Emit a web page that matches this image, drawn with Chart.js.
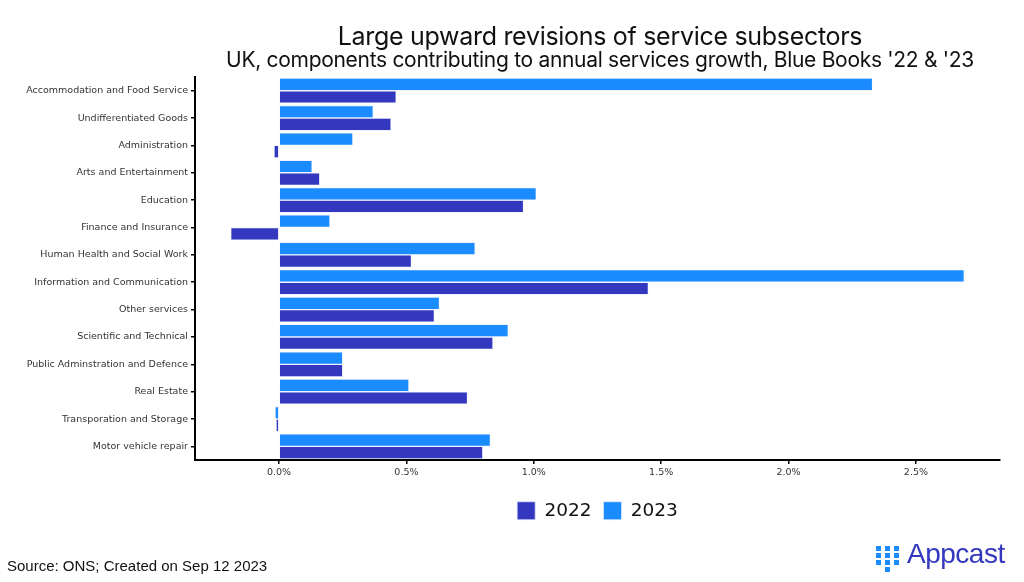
<!DOCTYPE html>
<html>
<head>
<meta charset="utf-8">
<script src="https://cdn.jsdelivr.net/npm/chart.js@4"></script>
<style>
  html, body { margin: 0; padding: 0; background: #fff; }
  #wrap { position: relative; width: 1024px; height: 582px; overflow: hidden; }
  #chart { position: absolute; left: 0; top: 0; }
  .title { position: absolute; left: 0; width: 1024px; text-align: center; color: #111; font-family: Inter, sans-serif; }
  #t1 { top: 21px; left: 88px; font-size: 25px; letter-spacing: -0.3px; }
  #t2 { top: 47px; left: 88px; font-size: 21px; letter-spacing: -0.3px; }
  #source { position: absolute; left: 7px; top: 557px; font-family: "Liberation Sans", Arial, sans-serif; font-size: 15px; color: #111; }
  #logo { position: absolute; left: 876px; top: 540px; height: 34px; width: 140px; }
  #logo .dot { position: absolute; width: 5px; height: 5px; background: #1a8cff; }
  #logo .word { position: absolute; left: 31px; top: -2px; font-family: "Liberation Sans", Arial, sans-serif; font-size: 28px; color: #3338bf; letter-spacing: -0.5px; }
</style>
</head>
<body>
<div id="wrap">
  <canvas id="chart" width="1024" height="582"></canvas>
  <div class="title" id="t1">Large upward revisions of service subsectors</div>
  <div class="title" id="t2">UK, components contributing to annual services growth, Blue Books '22 &amp; '23</div>
  <div id="source">Source: ONS; Created on Sep 12 2023</div>
  <div id="logo">
    <div class="dot" style="left:0;top:6px"></div>
    <div class="dot" style="left:0;top:13px"></div>
    <div class="dot" style="left:0;top:20px"></div>
    <div class="dot" style="left:9px;top:6px"></div>
    <div class="dot" style="left:9px;top:13px"></div>
    <div class="dot" style="left:9px;top:20px"></div>
    <div class="dot" style="left:9px;top:27px"></div>
    <div class="dot" style="left:18px;top:6px"></div>
    <div class="dot" style="left:18px;top:13px"></div>
    <div class="dot" style="left:18px;top:20px"></div>
    <div class="word">Appcast</div>
  </div>
</div>
<script>
// sectors, top to bottom
const categories = [
  'Accommodation and Food Service',
  'Undifferentiated Goods',
  'Administration',
  'Arts and Entertainment',
  'Education',
  'Finance and Insurance',
  'Human Health and Social Work',
  'Information and Communication',
  'Other services',
  'Scientific and Technical',
  'Public Adminstration and Defence',
  'Real Estate',
  'Transporation and Storage',
  'Motor vehicle repair'
];

// contribution to growth, percentage points
const values2023 = [2.33, 0.37, 0.29, 0.13, 1.01, 0.20, 0.77, 2.69, 0.63, 0.90, 0.25, 0.51, -0.016, 0.83];
const values2022 = [0.46, 0.44, -0.02, 0.16, 0.96, -0.19, 0.52, 1.45, 0.61, 0.84, 0.25, 0.74, -0.012, 0.80];

const xTicks = [0, 0.5, 1.0, 1.5, 2.0, 2.5];

const c2022 = '#3338bf';
const c2023 = '#1a8cff';

const tickFont = { family: 'DejaVu Sans', size: 9.5 };

// center the legend under the plot area rather than the whole canvas
const legendUnderPlot = {
  id: 'legendUnderPlot',
  afterLayout(chart) {
    const lg = chart.legend;
    if (!lg) return;
    lg.left = chart.chartArea.left;
    lg.right = chart.chartArea.right;
    lg.width = lg.right - lg.left;
  }
};

new Chart(document.getElementById('chart'), {
  type: 'bar',
  data: {
    labels: categories,
    datasets: [
      { label: '2023', data: values2023, backgroundColor: c2023, borderColor: '#e4eaff', borderWidth: 0.7, order: 1 },
      { label: '2022', data: values2022, backgroundColor: c2022, borderColor: '#e4eaff', borderWidth: 0.7, order: 2 }
    ]
  },
  options: {
    indexAxis: 'y',
    responsive: false,
    animation: false,
    devicePixelRatio: 1,
    layout: { padding: { top: 77, right: 24, bottom: 52, left: 0 } },
    datasets: { bar: { categoryPercentage: 0.92, barPercentage: 1.0 } },
    plugins: {
      legend: {
        position: 'bottom',
        reverse: true,
        labels: {
          boxWidth: 18, boxHeight: 18, padding: 12,
          color: '#111',
          font: { family: 'DejaVu Sans', size: 18.5 }
        }
      },
      tooltip: { enabled: false }
    },
    scales: {
      x: {
        min: -0.33, max: 2.83,
        afterBuildTicks: axis => { axis.ticks = xTicks.map(v => ({ value: v })); },
        afterFit: axis => { axis.height += 8; },
        grid: { drawOnChartArea: false, drawTicks: true, tickLength: 4, color: '#000', lineWidth: 1.5 },
        border: { display: true, color: '#000', width: 2 },
        ticks: { color: '#333', font: tickFont, padding: 3, callback: v => v.toFixed(1) + '%' }
      },
      y: {
        afterFit: axis => { axis.width = 195; },
        grid: { offset: false, drawOnChartArea: false, drawTicks: true, tickLength: 4, color: '#000', lineWidth: 1.5 },
        border: { display: true, color: '#000', width: 2 },
        ticks: { color: '#333', font: tickFont, padding: 3 }
      }
    }
  },
  plugins: [legendUnderPlot]
});
</script>
</body>
</html>
